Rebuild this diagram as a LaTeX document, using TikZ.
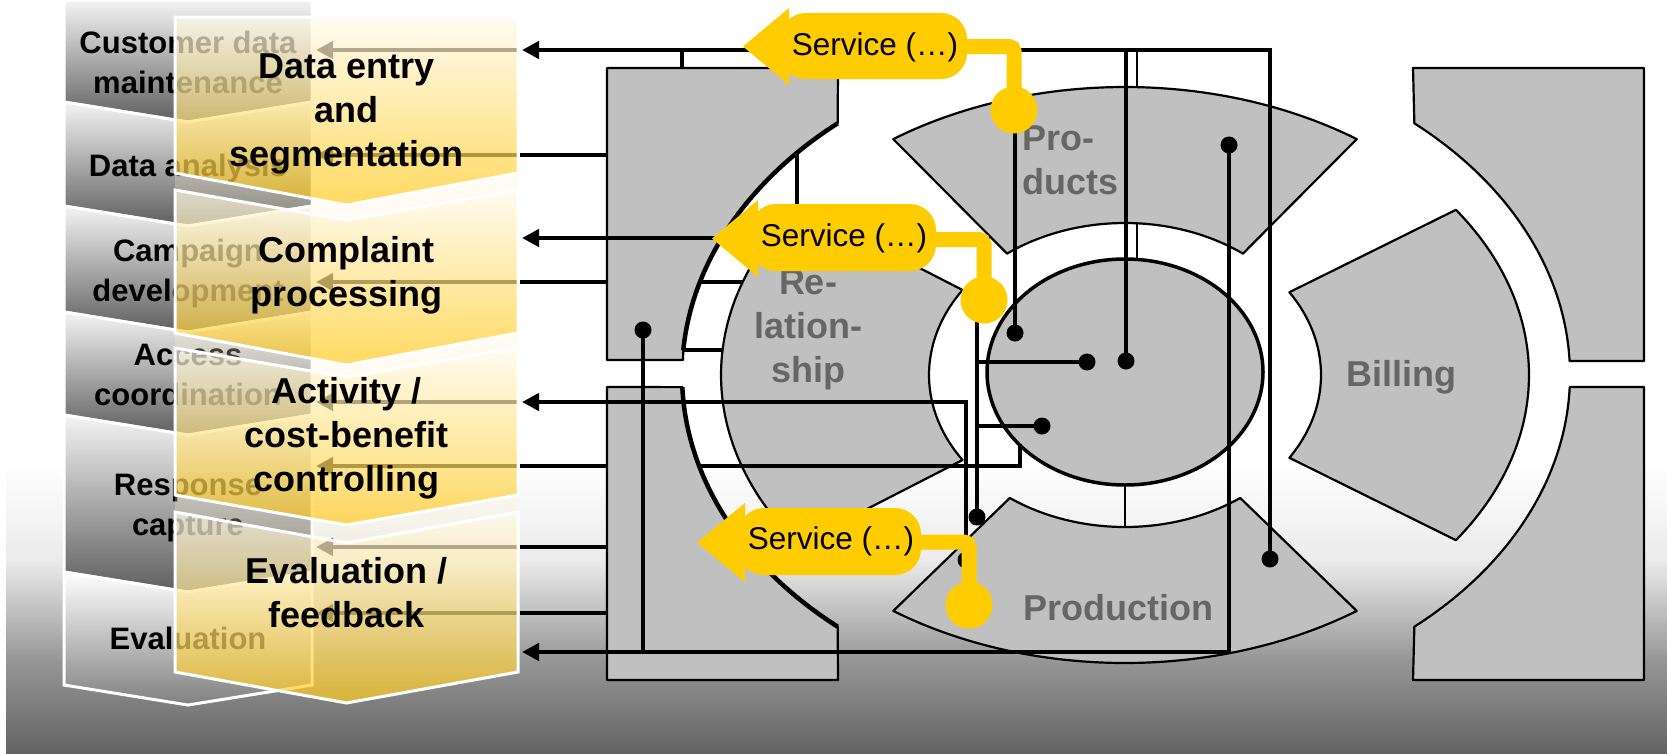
\documentclass[tikz,border=0pt]{standalone}
\usepackage{fontspec}
\setmainfont{Liberation Sans}
\usetikzlibrary{arrows.meta,calc}
\definecolor{shapegrey}{HTML}{C0C0C0}
\definecolor{labelgrey}{HTML}{666666}
\definecolor{svcyellow}{HTML}{FFCC00}
\definecolor{ytop}{HTML}{FFFCF0}
\definecolor{ybot}{HTML}{FFC400}
\definecolor{colbase}{HTML}{FFF3D0}
\definecolor{chtop}{HTML}{F4F4F4}
\definecolor{chbot}{HTML}{5E5E5E}
\definecolor{chbotb}{HTML}{808080}
\definecolor{bga}{HTML}{EBEBEB}
\definecolor{bgb}{HTML}{969696}
\definecolor{bgc}{HTML}{646464}
\tikzset{
  chev/.style={top color=chtop,bottom color=chbot,draw=white,line width=3pt},
  ychev/.style={top color=ytop,bottom color=ybot,fill opacity=0.6,draw=white,line width=3pt},
  gtxt/.style={font=\fontsize{31}{40}\selectfont\bfseries,align=center,inner sep=0pt},
  ytxt/.style={font=\fontsize{36}{44}\selectfont\bfseries,align=center,inner sep=0pt},
  ctxt/.style={font=\fontsize{36}{44}\selectfont\bfseries,text=labelgrey,inner sep=0pt},
  svc/.style={font=\fontsize{31.5}{36}\selectfont,inner sep=0pt},
  conn/.style={line width=4.5pt},
  arrowL/.style={-{Triangle[length=17pt,width=17pt]}},
  spoke/.style={line width=2.5pt},
  shp/.style={fill=shapegrey,draw=black,line width=2.2pt,line join=round},
  dot/.style={circle,fill=black,inner sep=0pt,minimum size=17pt},
  ball/.style={circle,fill=svcyellow,inner sep=0pt,minimum size=47pt},
}
\begin{document}
\begin{tikzpicture}[x=1pt,y=-1pt]
\useasboundingbox (0,0) rectangle (1667,753);
\fill[white] (0,0) rectangle (1667,753);
\shade[top color=white,bottom color=bga] (6,462) rectangle (1667,561);
\shade[top color=bga,bottom color=bgb] (6,560) rectangle (1667,661);
\shade[top color=bgb,bottom color=bgc] (6,660) rectangle (1667,753);

% ---------- grey process chevrons (back)
\path[chev] (64,0) -- (312,0) -- (312,102) -- (188,122) -- (64,102) -- cycle;
\path[chev] (64,102) -- (188,122) -- (312,102) -- (312,206) -- (188,226) -- (64,206) -- cycle;
\path[chev] (64,206) -- (188,226) -- (312,206) -- (312,312) -- (188,332) -- (64,312) -- cycle;
\path[chev] (64,312) -- (188,332) -- (312,312) -- (312,415) -- (188,435) -- (64,415) -- cycle;
\path[chev] (64,415) -- (188,435) -- (312,415) -- (312,572) -- (188,592) -- (64,572) -- cycle;
\path[chev,top color=white,bottom color=chbotb] (64,572) -- (188,592) -- (312,572) -- (312,685) -- (188,705) -- (64,685) -- cycle;
\node[gtxt] (g1) at (188,62.5) {Customer data\\maintenance};
\node[gtxt] (g2) at (188,168) {Data analysis};
\node[gtxt] (g3) at (188,273) {Campaign\\development};
\node[gtxt] (g4) at (188,375) {Access\\coordination};
\node[gtxt] (g5) at (188,508) {Response\\capture};
\node[gtxt] (g6) at (188,638) {Evaluation};

% ---------- connector lines seen through the yellow column
\foreach \yy in {50,155,282,402,466,547,613}
  \draw[conn,arrowL] (518,\yy) -- (316,\yy);

% ---------- yellow column (front)
\fill[colbase,fill opacity=0.25] (175,17) -- (518,17) -- (518,672) -- (346.5,703) -- (175,672) -- cycle;
\path[ychev] (175,17) -- (518,17) -- (518,173) -- (346.5,205) -- (175,173) -- cycle;
\path[ychev] (175,190) -- (346.5,220) -- (518,190) -- (518,333) -- (346.5,365) -- (175,333) -- cycle;
\path[ychev] (175,348) -- (346.5,377) -- (518,348) -- (518,495) -- (346.5,525) -- (175,495) -- cycle;
\path[ychev] (175,512) -- (346.5,543) -- (518,512) -- (518,672) -- (346.5,703) -- (175,672) -- cycle;
\node[ytxt] (y1) at (346.5,114) {Data entry\\and\\segmentation};
\node[ytxt] (y2) at (346.5,275) {Complaint\\processing};
\node[ytxt] (y3) at (346.5,438) {Activity /\\cost-benefit\\controlling};
\node[ytxt] (y4) at (346.5,593) {Evaluation /\\feedback};

% ---------- lines beneath the architecture shapes
\draw[conn] (520,155) -| (797,210);
\draw[conn] (520,282) -- (746,282);
\draw[conn] (520,466) -- (702,466);
\draw[conn] (520,547) -- (612,547);
\draw[conn] (520,613) -- (612,613);
\draw[conn] (682,50) -- (682,70);
\draw[conn] (681,350) -- (726,350);
\draw[spoke] (1137,50) -- (1137,89);
\draw[spoke] (1137,221) -- (1137,262);
\draw[spoke] (1125,483) -- (1125,529);

% ---------- outer brackets
\path[shp] (607,360) -- (683,360) -- plot[domain=184.3:229.5,samples=60,variable=\t] ({1126+444*cos(\t)},{375+331*sin(\t)}) -- (838,68) -- (607,68) -- cycle;
\path[shp] (607,680) -- (838,680) -- plot[domain=130.5:177.9,samples=60,variable=\t] ({1126+444*cos(\t)},{375+331*sin(\t)}) -- (607,387) -- cycle;
\path[shp] (1413,68) -- plot[domain=-49.5:-2.42,samples=60,variable=\t] ({1126+444*cos(\t)},{375+331*sin(\t)}) -- (1644,361) -- (1644,68) -- cycle;
\path[shp] (1644,387) -- plot[domain=2.08:49.5,samples=60,variable=\t] ({1126+444*cos(\t)},{375+331*sin(\t)}) -- (1413,680) -- (1644,680) -- cycle;
\draw[line width=4.5pt] plot[domain=184.3:229.5,samples=60,variable=\t] ({1126+444*cos(\t)},{375+331*sin(\t)});
\draw[line width=4.5pt] plot[domain=130.5:177.9,samples=60,variable=\t] ({1126+444*cos(\t)},{375+331*sin(\t)});

% ---------- ring sectors
\path[shp] plot[domain=235:305,samples=60,variable=\t] ({1125+404*cos(\t)},{375+288*sin(\t)}) -- plot[domain=-307:-233,samples=60,variable=\t] ({1125+196*cos(-\t)},{375+152*sin(-\t)}) -- cycle;
\path[shp] plot[domain=55:125,samples=60,variable=\t] ({1125+404*cos(\t)},{375+288*sin(\t)}) -- plot[domain=-126:-54,samples=60,variable=\t] ({1125+196*cos(-\t)},{375+152*sin(-\t)}) -- cycle;
\path[shp] plot[domain=144:216,samples=60,variable=\t] ({1125+404*cos(\t)},{375+288*sin(\t)}) -- plot[domain=-214:-146,samples=60,variable=\t] ({1125+196*cos(-\t)},{375+152*sin(-\t)}) -- cycle;
\path[shp] plot[domain=-35:35,samples=60,variable=\t] ({1125+404*cos(\t)},{375+288*sin(\t)}) -- plot[domain=-33:33,samples=60,variable=\t] ({1125+196*cos(-\t)},{375+152*sin(-\t)}) -- cycle;
\path[shp,line width=3.5pt] (1125,372) ellipse[x radius=138,y radius=113];

\node[ctxt,align=left,anchor=west] (lp) at (1022,160) {Pro-\\ducts};
\node[ctxt,align=center] (lr) at (808,330) {Re-\\lation-\\ship};
\node[ctxt] (lb) at (1401,377) {Billing};
\node[ctxt] (lpr) at (1118,608) {Production};

% ---------- dots
\node[dot] (d1) at (643,330) {};
\node[dot] (d2) at (1015,333) {};
\node[dot] (d3) at (1087,362) {};
\node[dot] (d4) at (1126,361) {};
\node[dot] (d5) at (1042,426) {};
\node[dot] (d6) at (977,517) {};
\node[dot] (d7) at (1229,145) {};
\node[dot] (d8) at (1270,559) {};
\node[dot] (d9) at (966,560) {};

% ---------- connectors on top
\draw[conn,arrowL] (d8.center) -- (1270,50) -- (522,50);
\draw[conn] (1126,50) -- (d4.center);
\draw[conn,arrowL] (d7.center) -- (1229,652) -- (522,652);
\draw[conn] (d1.center) -- (643,652);
\draw[conn,arrowL] (990,238) -- (522,238);
\draw[conn,arrowL] (d9.center) -- (966,402) -- (522,402);
\draw[conn] (699,466) -- (1020,466) -- (1020,444);
\draw[conn] (1015,125) -- (d2.center);
\draw[conn] (977,315) -- (d6.center);
\draw[conn] (977,362) -- (d3.center);
\draw[conn] (977,426) -- (d5.center);

% ---------- service callouts
\fill[svcyellow] (743,46.5) -- (789,8) -- (789,85) -- cycle;
\fill[svcyellow,rounded corners=26pt] (780,13) rectangle (967,79);
\draw[svcyellow,line width=15pt,rounded corners=5pt] (955,46.5) -| (1014,100);
\node[ball] (c1) at (1014,110) {};
\node[svc] (s1) at (875,47) {Service (…)};

\fill[svcyellow] (712,238.5) -- (758,200) -- (758,277) -- cycle;
\fill[svcyellow,rounded corners=26pt] (750,204) rectangle (936,271);
\draw[svcyellow,line width=15pt,rounded corners=5pt] (925,239.5) -| (984,290);
\node[ball] (c2) at (984,300) {};
\node[svc] (s2) at (844,238) {Service (…)};

\fill[svcyellow] (697,542.5) -- (745,503) -- (745,582) -- cycle;
\fill[svcyellow,rounded corners=26pt] (738,508) rectangle (921,575);
\draw[svcyellow,line width=15pt,rounded corners=5pt] (910,542) -| (969,595);
\node[ball] (c3) at (969,605) {};
\node[svc] (s3) at (831,541) {Service (…)};
\end{tikzpicture}
\end{document}
